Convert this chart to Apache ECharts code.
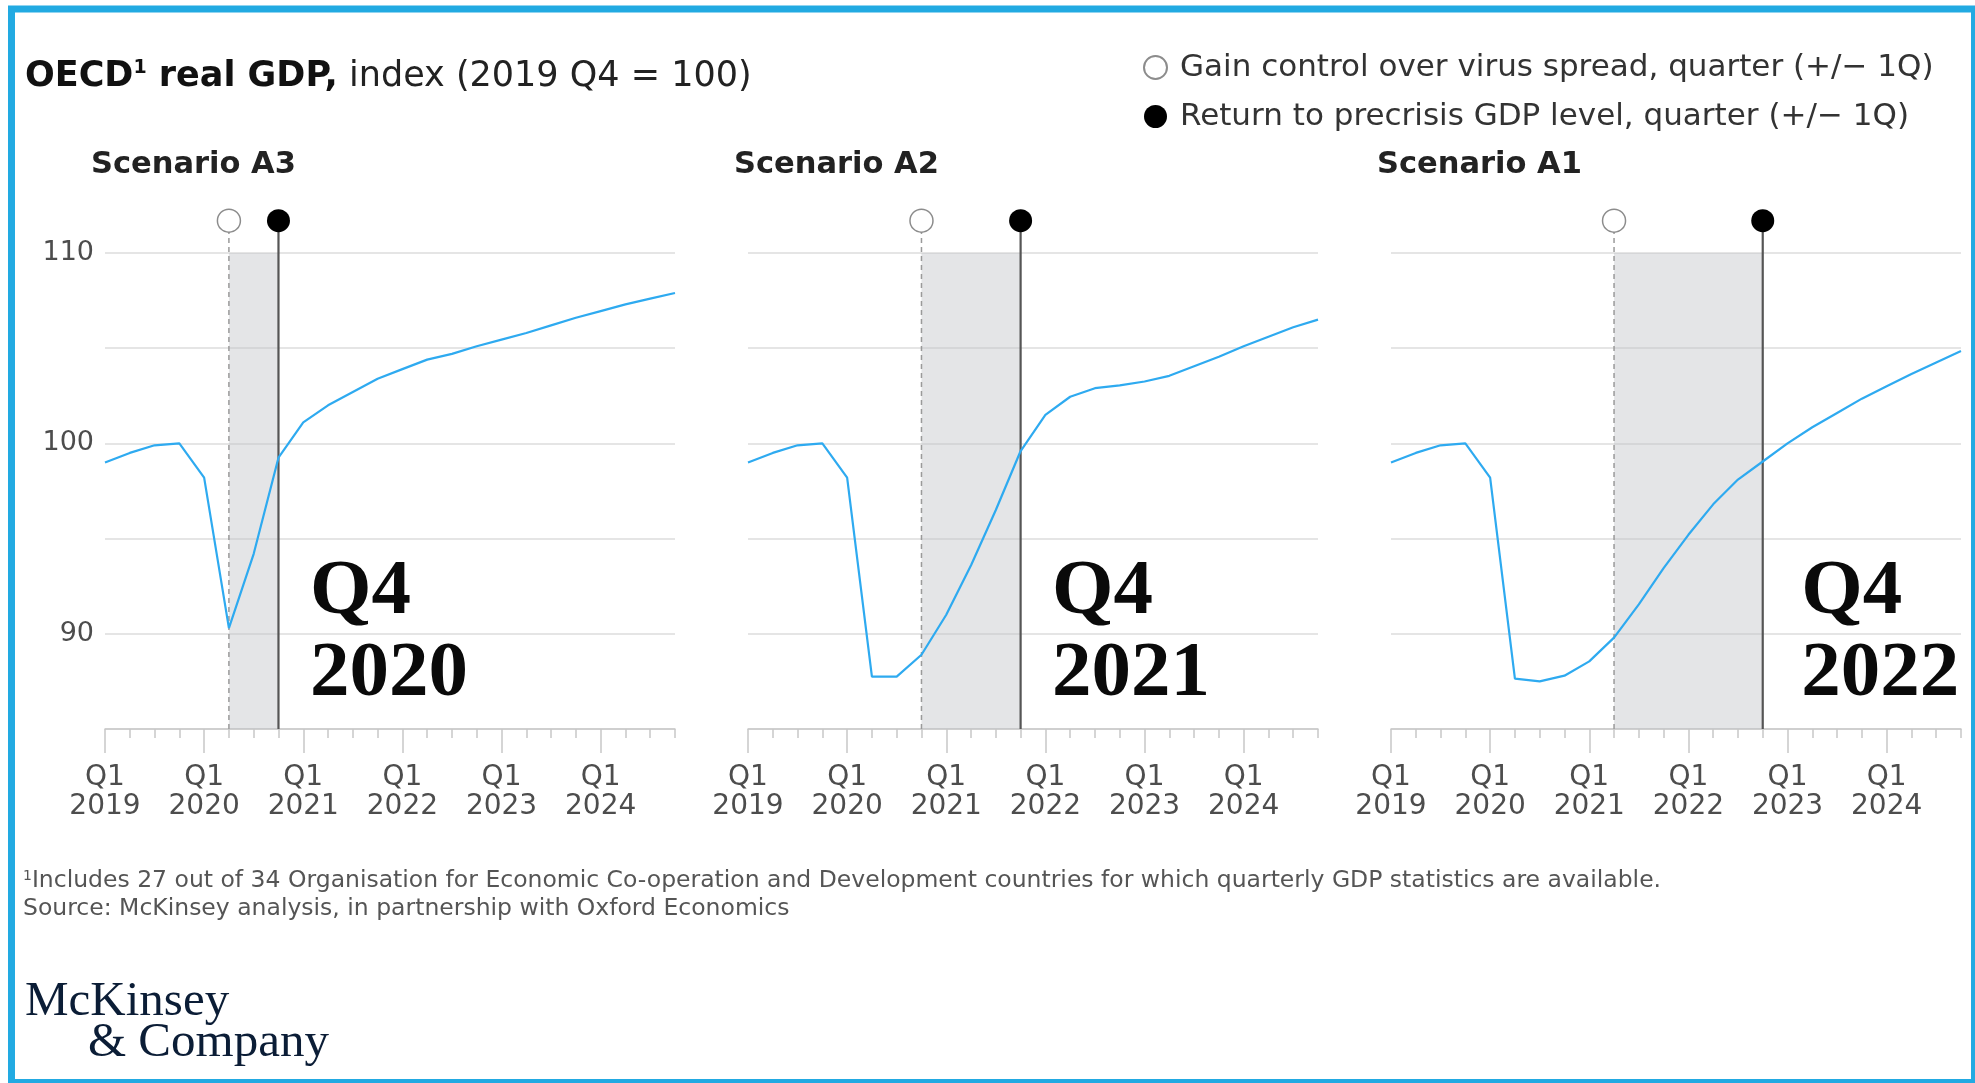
<!DOCTYPE html>
<html>
<head>
<meta charset="utf-8">
<script src="https://cdn.jsdelivr.net/npm/echarts@6/dist/echarts.min.js"></script>
<style>
  html, body { margin: 0; padding: 0; background: #fff; }
  #chart { width: 1975px; height: 1083px; }
</style>
</head>
<body>
<div id="chart"></div>
<script>
// quarters on the x axis, Q1 2019 .. Q4 2024
const quarters = [
  'Q1 2019', 'Q2 2019', 'Q3 2019', 'Q4 2019',
  'Q1 2020', 'Q2 2020', 'Q3 2020', 'Q4 2020',
  'Q1 2021', 'Q2 2021', 'Q3 2021', 'Q4 2021',
  'Q1 2022', 'Q2 2022', 'Q3 2022', 'Q4 2022',
  'Q1 2023', 'Q2 2023', 'Q3 2023', 'Q4 2023',
  'Q1 2024', 'Q2 2024', 'Q3 2024', 'Q4 2024',
];
const xTickLabels = ['Q1\n2019', 'Q1\n2020', 'Q1\n2021', 'Q1\n2022', 'Q1\n2023', 'Q1\n2024'];
const yTickLabels = [90, 100, 110];

const scenarioTitles = ['Scenario A3', 'Scenario A2', 'Scenario A1'];

// OECD real GDP index (2019 Q4 = 100)
const gdpA3 = [99.0, 99.5, 99.9, 100.0, 98.2, 90.3, 94.2, 99.25, 101.1, 102.0, 102.7, 103.4,
  103.9, 104.4, 104.7, 105.1, 105.45, 105.8, 106.2, 106.6, 106.95, 107.3, 107.6, 107.9];
const gdpA2 = [99.0, 99.5, 99.9, 100.0, 98.2, 87.75, 87.75, 88.9, 91.0, 93.6, 96.5, 99.6,
  101.5, 102.45, 102.9, 103.05, 103.25, 103.55, 104.05, 104.55, 105.1, 105.6, 106.1, 106.5];
const gdpA1 = [99.0, 99.5, 99.9, 100.0, 98.2, 87.65, 87.5, 87.8, 88.55, 89.8, 91.55, 93.45,
  95.2, 96.8, 98.1, 99.05, 100.0, 100.85, 101.6, 102.35, 103.0, 103.65, 104.25, 104.85];

// quarter index of the two markers in each scenario
const gainControlQ = [5, 7, 9];
const precrisisQ = [7, 11, 15];
const precrisisLabels = ['Q4\n2020', 'Q4\n2021', 'Q4\n2022'];

const LEGEND_GAIN = 'Gain control over virus spread, quarter (+/\u2212 1Q)';
const LEGEND_BACK = 'Return to precrisis GDP level, quarter (+/\u2212 1Q)';

const SANS = 'DejaVu Sans';
const SERIF = 'Liberation Serif';
const BLUE = '#2eaaf0';
const markerLevel = 111.7;
const gridLeft = [105, 748, 1391];
const noteGap = [31, 31, 38];

const allData = [gdpA3, gdpA2, gdpA1];

const grid = [];
const xAxis = [];
const yAxis = [];
const series = [];
const titles = [
  {
    left: 25, top: 59, padding: 0,
    text: '{b|OECD}{sup|1}{b| real GDP,} index (2019 Q4 = 100)',
    textStyle: {
      fontFamily: SANS, fontSize: 35, color: '#222', fontWeight: 'normal',
      rich: {
        b: { fontFamily: SANS, fontSize: 35, fontWeight: 'bold', color: '#111' },
        sup: { fontFamily: SANS, fontSize: 19, fontWeight: 'bold', color: '#111', padding: [0, 0, 16, 0] },
      },
    },
  },
  {
    left: 23, top: 867, padding: 0,
    text: '{sup|1}Includes 27 out of 34 Organisation for Economic Co-operation and Development countries for which quarterly GDP statistics are available.\nSource: McKinsey analysis, in partnership with Oxford Economics',
    textStyle: {
      fontFamily: SANS, fontSize: 23.5, color: '#555', fontWeight: 'normal', lineHeight: 28,
      rich: { sup: { fontFamily: SANS, fontSize: 14, color: '#555', padding: [0, 0, 10, 0] } },
    },
  },
  {
    left: 25, top: 978, padding: 0, text: 'McKinsey',
    textStyle: { fontFamily: SERIF, fontSize: 49, color: '#0b1d36', fontWeight: 'normal' },
  },
  {
    left: 88, top: 1019, padding: 0, text: '& Company',
    textStyle: { fontFamily: SERIF, fontSize: 49, color: '#0b1d36', fontWeight: 'normal' },
  },
];

const tickStyle = { color: '#c8c8c8', width: 1.5 };

allData.forEach((vals, g) => {
  grid.push({ left: gridLeft[g], top: 253, width: 570, height: 476 });

  titles.push({
    left: gridLeft[g] - 14, top: 150, padding: 0, text: scenarioTitles[g],
    textStyle: { fontFamily: SANS, fontSize: 30.5, fontWeight: 'bold', color: '#222' },
  });

  // quarter ticks
  xAxis.push({
    gridIndex: g, type: 'category', data: quarters, boundaryGap: false, position: 'bottom',
    axisLine: { show: true, lineStyle: tickStyle },
    axisTick: { show: true, interval: 0, length: 9, lineStyle: tickStyle },
    axisLabel: { show: false },
    splitLine: { show: false },
  });
  // year ticks + labels
  xAxis.push({
    gridIndex: g, type: 'category', data: quarters, boundaryGap: false, position: 'bottom',
    axisLine: { show: false },
    axisTick: { show: true, interval: (i) => i % 4 === 0, length: 24, lineStyle: tickStyle },
    axisLabel: {
      interval: (i) => i % 4 === 0,
      formatter: (v, i) => xTickLabels[i / 4] || '',
      margin: 34, fontFamily: SANS, fontSize: 28, lineHeight: 29, color: '#4d4d4d',
    },
    splitLine: { show: false },
  });

  yAxis.push({
    gridIndex: g, type: 'value', min: 85, max: 110, interval: 5,
    axisLine: { show: false }, axisTick: { show: false },
    axisLabel: {
      show: g === 0,
      formatter: (v) => (yTickLabels.includes(v) ? String(v) : ''),
      margin: 11, fontFamily: SANS, fontSize: 27, color: '#4d4d4d',
    },
    splitLine: { lineStyle: { color: '#dcdcdc', width: 1.5 } },
  });

  const xi = g * 2;

  series.push({
    type: 'line', xAxisIndex: xi, yAxisIndex: g,
    data: vals.map((v, i) => [i, v]),
    showSymbol: false, z: 5,
    lineStyle: { color: BLUE, width: 2.2 },
    markArea: {
      silent: true,
      itemStyle: { color: 'rgba(190,193,198,0.42)' },
      data: [[{ xAxis: gainControlQ[g], yAxis: 85 }, { xAxis: precrisisQ[g], yAxis: 110 }]],
    },
  });

  series.push({
    type: 'line', xAxisIndex: xi, yAxisIndex: g, clip: false, symbol: 'none', z: 3,
    data: [[gainControlQ[g], 85], [gainControlQ[g], markerLevel]],
    lineStyle: { color: '#9a9a9a', width: 1.5, type: [5, 4] },
  });
  series.push({
    type: 'line', xAxisIndex: xi, yAxisIndex: g, clip: false, symbol: 'none', z: 3,
    data: [[precrisisQ[g], 85], [precrisisQ[g], markerLevel]],
    lineStyle: { color: '#555', width: 2.2 },
  });

  series.push({
    type: 'scatter', name: LEGEND_GAIN, xAxisIndex: xi, yAxisIndex: g, clip: false, z: 6,
    data: [[gainControlQ[g], markerLevel]], symbolSize: 23,
    itemStyle: { color: '#fff', borderColor: '#8c8c8c', borderWidth: 1.5, opacity: 1 },
  });
  series.push({
    type: 'scatter', name: LEGEND_BACK, xAxisIndex: xi, yAxisIndex: g, clip: false, z: 6,
    data: [[precrisisQ[g], markerLevel]], symbolSize: 23,
    itemStyle: { color: '#000', opacity: 1 },
  });

  // big "Q4 / year" note beside the precrisis line
  series.push({
    type: 'scatter', xAxisIndex: xi, yAxisIndex: g, z: 7,
    data: [[precrisisQ[g], 90]], symbolSize: 1,
    itemStyle: { color: 'rgba(0,0,0,0)', opacity: 1 },
    label: {
      show: true, position: 'right', distance: noteGap[g],
      formatter: precrisisLabels[g],
      fontFamily: SERIF, fontWeight: 'bold', fontSize: 79, lineHeight: 82,
      color: '#0a0a0a', align: 'left', opacity: 1,
    },
  });
});

const chart = echarts.init(document.getElementById('chart'), null, { renderer: 'canvas' });
chart.setOption({
  animation: false,
  backgroundColor: '#fff',
  title: titles,
  legend: {
    data: [LEGEND_GAIN, LEGEND_BACK],
    orient: 'vertical', left: 1143, top: 52, padding: 0,
    itemWidth: 23, itemHeight: 23, itemGap: 18,
    selectedMode: false,
    textStyle: { fontFamily: SANS, fontSize: 31, color: '#333', padding: [0, 0, 0, 8] },
  },
  grid,
  xAxis,
  yAxis,
  series,
  graphic: [
    {
      type: 'rect', silent: true, z: 100,
      shape: { x: 11.5, y: 9, width: 1963, height: 1073.5 },
      style: { fill: 'none', stroke: '#22aae2', lineWidth: 7 },
    },
  ],
});
</script>
</body>
</html>
